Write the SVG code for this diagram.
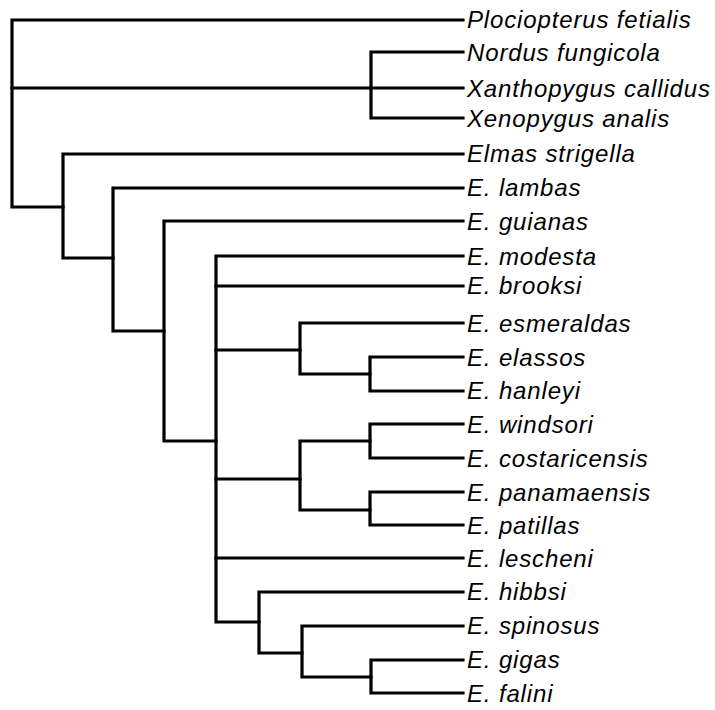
<svg xmlns="http://www.w3.org/2000/svg" width="715" height="710" viewBox="0 0 715 710">
<style>
.br{fill:none;stroke:#000;stroke-width:3.2;stroke-linecap:square;stroke-linejoin:miter}
.lb{font-family:"Liberation Sans",Arial,sans-serif;font-style:italic;font-size:24px;letter-spacing:0.85px;fill:#000}
</style>
<rect width="715" height="710" fill="#fff"/>
<g id="connectors" class="br">
<path d="M463,20 H12 V207 H63"/>
<path d="M12,88 H463"/>
<path d="M463,52 H371 V118 H463"/>
<path d="M463,154 H63 V258 H113"/>
<path d="M463,188 H113 V331 H164"/>
<path d="M463,221 H164 V441 H216"/>
<path d="M463,256 H216 V622 H259"/>
<path d="M216,286 H463"/>
<path d="M216,350 H300"/>
<path d="M463,323 H300 V374 H370"/>
<path d="M463,357 H370 V391 H463"/>
<path d="M216,479 H300"/>
<path d="M370,441 H300 V510 H370"/>
<path d="M463,424 H370 V458 H463"/>
<path d="M463,492 H370 V525 H463"/>
<path d="M216,558 H463"/>
<path d="M463,592 H259 V653 H302"/>
<path d="M463,626 H302 V677 H371"/>
<path d="M463,660 H371 V693 H463"/>
</g>
<g id="plociopterus"><text class="lb" x="467" y="28">Plociopterus fetialis</text></g>
<g id="nordus"><text class="lb" x="467" y="61">Nordus fungicola</text></g>
<g id="xanthopygus"><text class="lb" x="467" y="97">Xanthopygus callidus</text></g>
<g id="xenopygus"><text class="lb" x="467" y="127">Xenopygus analis</text></g>
<g id="elmas"><text class="lb" x="467" y="162">Elmas strigella</text></g>
<g id="lambas"><text class="lb" x="467" y="196">E. lambas</text></g>
<g id="guianas"><text class="lb" x="467" y="230">E. guianas</text></g>
<g id="modesta"><text class="lb" x="467" y="265">E. modesta</text></g>
<g id="brooksi"><text class="lb" x="467" y="294">E. brooksi</text></g>
<g id="esmeraldas"><text class="lb" x="467" y="332">E. esmeraldas</text></g>
<g id="elassos"><text class="lb" x="467" y="366">E. elassos</text></g>
<g id="hanleyi"><text class="lb" x="467" y="399">E. hanleyi</text></g>
<g id="windsori"><text class="lb" x="467" y="433">E. windsori</text></g>
<g id="costaricensis"><text class="lb" x="467" y="467">E. costaricensis</text></g>
<g id="panamaensis"><text class="lb" x="467" y="501">E. panamaensis</text></g>
<g id="patillas"><text class="lb" x="467" y="534">E. patillas</text></g>
<g id="lescheni"><text class="lb" x="467" y="567">E. lescheni</text></g>
<g id="hibbsi"><text class="lb" x="467" y="600">E. hibbsi</text></g>
<g id="spinosus"><text class="lb" x="467" y="634">E. spinosus</text></g>
<g id="gigas"><text class="lb" x="467" y="668">E. gigas</text></g>
<g id="falini"><text class="lb" x="467" y="702">E. falini</text></g>
</svg>
